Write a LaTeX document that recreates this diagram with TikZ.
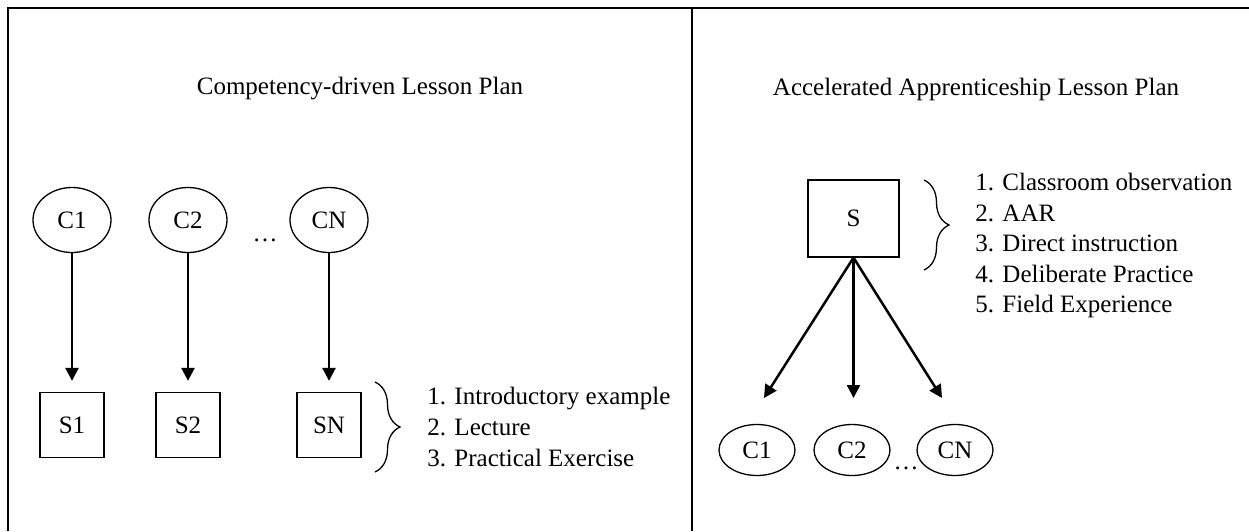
\documentclass[tikz,border=0pt]{standalone}
\usepackage{fontspec}
\setmainfont{Liberation Serif}
\usetikzlibrary{shapes.geometric, arrows.meta, decorations.pathreplacing, positioning}

\begin{document}
\begin{tikzpicture}[x=0.5pt, y=-0.5pt, font=\fontsize{12.5}{15}\selectfont]

\tikzstyle{comp} = [draw, ellipse, line width=0.65pt, inner sep=0pt, minimum width=39pt, minimum height=32.5pt]
\tikzstyle{sess} = [draw, rectangle, line width=0.65pt, inner sep=0pt, minimum width=32pt, minimum height=32.5pt]
\tikzstyle{flow} = [-{Triangle[width=6.5pt, length=6.5pt]}, line width=1.25pt]
\tikzstyle{curly} = [decorate, decoration={brace, amplitude=12.5pt}, line width=0.65pt]
\tikzstyle{item} = [anchor=west, inner sep=0pt, text height=0.7em, text depth=0.25em]

\useasboundingbox (0,0) rectangle (1249,531);

% frame
\draw[line width=0.85pt] (8,531) -- (8,8) -- (1249,8);
\draw[line width=0.85pt] (692,8) -- (692,531);

% competency-driven plan
\node (ltitle) at (360,89) {Competency-driven Lesson Plan};

\foreach \n/\x in {1/72, 2/188, N/329}{
  \node[comp] (lc\n) at (\x,220) {C\n};
  \node[sess] (ls\n) at (\x,425) {S\n};
  \draw[flow, shorten >=5.5pt] (lc\n) -- (ls\n);
}
\node (ldots) at (265,240) {\dots};

\draw[curly] (375,382) -- (375,472);
\foreach \t [count=\i] in {Introductory example, Lecture, Practical Exercise}
  \node[item] (litem\i) at (427,{400+31*(\i-1)}) {\i. \t};

% accelerated apprenticeship plan
\node (rtitle) at (976,89) {Accelerated Apprenticeship Lesson Plan};

\node[sess, minimum width=45.5pt, minimum height=38.5pt] (rs) at (853.5,218.5) {S};
\draw[curly] (924,180) -- (924,270);
\foreach \t [count=\i] in {Classroom observation, AAR, Direct instruction, Deliberate Practice, Field Experience}
  \node[item] (ritem\i) at (975,{186+30.5*(\i-1)}) {\i. \t};

\foreach \n/\x/\tx in {1/757/764, 2/852/853.5, N/955/942}{
  \node[comp, minimum width=38pt, minimum height=25.5pt] (rc\n) at (\x,450) {C\n};
  \coordinate (rt\n) at (\tx,398);
  \draw[flow] (rs.south) -- (rt\n);
}
\node (rdots) at (906,468) {\dots};

\end{tikzpicture}
\end{document}
